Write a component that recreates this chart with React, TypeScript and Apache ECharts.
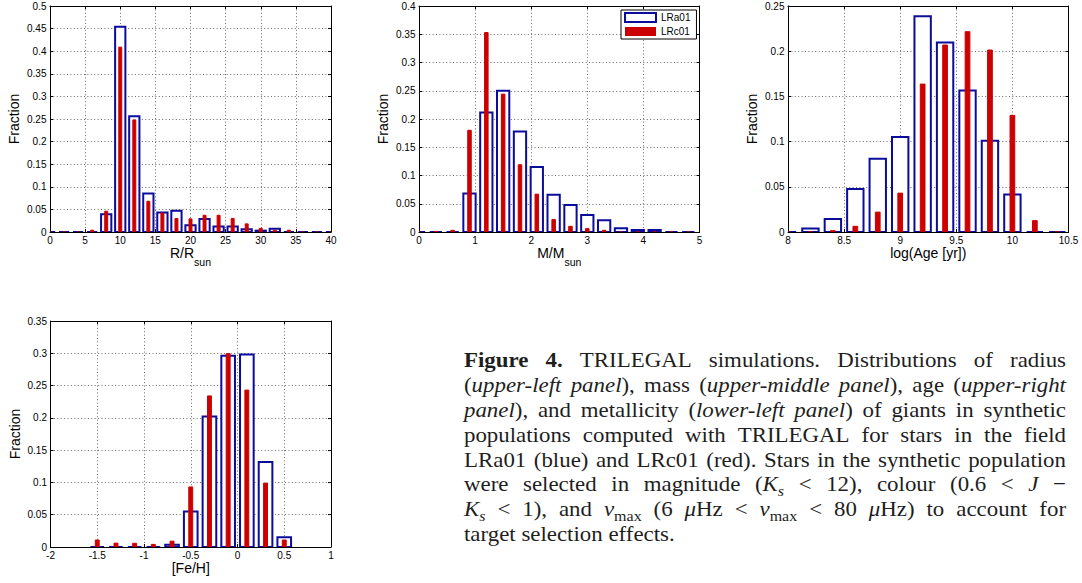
import React, { useEffect, useRef } from 'react';
import * as echarts from 'echarts';

// ---------------- data ----------------
const radiusCenters = [0, 2, 4, 6, 8, 10, 12, 14, 16, 18, 20, 22, 24, 26, 28, 30, 32, 34, 36, 38, 40];
const radiusLRa01 = [0, 0, 0, 0, 0.039, 0.454, 0.256, 0.085, 0.043, 0.047, 0.015, 0.029, 0.012, 0.012, 0.006, 0.003, 0.007, 0, 0, 0, 0];
const radiusLRc01 = [0, 0, 0, 0.004, 0.046, 0.409, 0.248, 0.068, 0.042, 0.030, 0.029, 0.037, 0.037, 0.030, 0.018, 0.008, 0.004, 0.004, 0, 0, 0];

const massCenters = [0, 0.3, 0.6, 0.9, 1.2, 1.5, 1.8, 2.1, 2.4, 2.7, 3.0, 3.3, 3.6, 3.9, 4.2, 4.5, 4.8];
const massLRa01 = [0, 0, 0, 0.068, 0.2115, 0.25, 0.178, 0.115, 0.066, 0.048, 0.030, 0.021, 0.0065, 0.0035, 0.0035, 0, 0];
const massLRc01 = [0, 0.001, 0.003, 0.18, 0.353, 0.244, 0.119, 0.067, 0.022, 0.010, 0.006, 0.003, 0, 0, 0, 0, 0];

const ageCenters = [8.0, 8.2, 8.4, 8.6, 8.8, 9.0, 9.2, 9.4, 9.6, 9.8, 10.0, 10.2, 10.4];
const ageLRa01 = [0, 0.004, 0.0144, 0.0476, 0.081, 0.105, 0.2386, 0.2097, 0.1566, 0.101, 0.0414, 0, 0];
const ageLRc01 = [0, 0.0005, 0.0015, 0.0063, 0.022, 0.043, 0.1636, 0.2068, 0.2216, 0.2013, 0.129, 0.0126, 0];

const fehCenters = [-1.5, -1.3, -1.1, -0.9, -0.7, -0.5, -0.3, -0.1, 0.1, 0.3, 0.5];
const fehLRa01 = [0, 0, 0, 0, 0.0036, 0.055, 0.202, 0.296, 0.298, 0.1316, 0.015];
const fehLRc01 = [0.0108, 0.006, 0.0057, 0.004, 0.009, 0.093, 0.234, 0.2994, 0.243, 0.099, 0.0108];

const seriesNames = ['LRa01', 'LRc01'];
const yAxisTitle = 'Fraction';
const xAxisTitles = ['{a|R/R}{b|sun}', '{a|M/M}{b|sun}', '{a|log(Age [yr])}', '{a|[Fe/H]}'];

const captionLines = [
  '#Figure 4.# TRILEGAL simulations. Distributions of radius',
  '(*upper-left panel*), mass (*upper-middle panel*), age (*upper-right*',
  '*panel*), and metallicity (*lower-left panel*) of giants in synthetic',
  'populations computed with TRILEGAL for stars in the field',
  'LRa01 (blue) and LRc01 (red). Stars in the synthetic population',
  'were selected in magnitude (*K*_{*s*} < 12), colour (0.6 < *J* \u2212',
  '*K*_{*s*} < 1), and *\u03bd*_{max} (6 *\u03bc*Hz < *\u03bd*_{max} < 80 *\u03bc*Hz) to account for',
  'target selection effects.',
];

// ---------------- style ----------------
const BLUE = '#0c0c9c';
const RED = '#cc0000';
const SANS = 'Liberation Sans';
const SERIF = 'Liberation Serif';

const panels = [
  { grid: { left: 50, top: 6, width: 281, height: 226 }, xr: [0, 40, 5], yr: [0, 0.5, 0.05], centers: radiusCenters, blue: radiusLRa01, red: radiusLRc01, bin: 2, nameGap: 12.5 },
  { grid: { left: 419, top: 6, width: 280.5, height: 226 }, xr: [0, 5, 1], yr: [0, 0.4, 0.05], centers: massCenters, blue: massLRa01, red: massLRc01, bin: 0.3, nameGap: 12.5 },
  { grid: { left: 788, top: 6, width: 280.5, height: 226 }, xr: [8, 10.5, 0.5], yr: [0, 0.25, 0.05], centers: ageCenters, blue: ageLRa01, red: ageLRc01, bin: 0.2, nameGap: 12.5 },
  { grid: { left: 50.5, top: 321, width: 280.5, height: 226 }, xr: [-2, 1, 0.5], yr: [0, 0.35, 0.05], centers: fehCenters, blue: fehLRa01, red: fehLRc01, bin: 0.2, nameGap: 13 },
];

// ---------------- caption helpers ----------------
type Run = { t: string; b: boolean; i: boolean; sub: boolean };
function parseLine(s: string): Run[][] {
  const words: Run[][] = [];
  let cur: Run[] = [];
  let b = false, it = false, sub = false;
  const push = (ch: string) => {
    const last = cur[cur.length - 1];
    if (last && last.b === b && last.i === it && last.sub === sub) last.t += ch;
    else cur.push({ t: ch, b, i: it, sub });
  };
  for (let k = 0; k < s.length; k++) {
    const ch = s[k];
    if (ch === '#') { b = !b; continue; }
    if (ch === '*') { it = !it; continue; }
    if (ch === '_' && s[k + 1] === '{') { sub = true; k++; continue; }
    if (ch === '}' && sub) { sub = false; continue; }
    if (ch === ' ') { if (cur.length) { words.push(cur); cur = []; } continue; }
    push(ch);
  }
  if (cur.length) words.push(cur);
  return words;
}

function buildCaption() {
  const F = 22;
  const SUBF = F * 0.7;
  const CAP_X = 464;
  const CAP_W = 602;
  const CAP_BASE = 367;
  const CAP_LH = 24.9;
  const SX = 1.04;
  const canvas = document.createElement('canvas');
  const ctx = canvas.getContext('2d') as CanvasRenderingContext2D;
  const fontOf = (r: Run) => `${r.i ? 'italic ' : ''}${r.b ? 'bold ' : ''}${r.sub ? SUBF : F}px ${SERIF}`;
  const wOf = (r: Run) => { ctx.font = fontOf(r); return ctx.measureText(r.t).width; };
  ctx.font = `${F}px ${SERIF}`;
  const spaceW = ctx.measureText(' ').width;
  const groups: any[] = [];
  captionLines.forEach((line, li) => {
    const words = parseLine(line);
    const widths = words.map((ws) => ws.reduce((a, r) => a + wOf(r), 0));
    const total = widths.reduce((a, v) => a + v, 0);
    const justify = li < captionLines.length - 1 && words.length > 1;
    let sc = SX;
    const minNat = total + spaceW * 0.6 * (words.length - 1);
    if (justify && minNat * sc > CAP_W) sc = CAP_W / minNat;
    const gap = justify ? (CAP_W / sc - total) / (words.length - 1) : spaceW;
    const base = CAP_BASE + li * CAP_LH;
    const children: any[] = [];
    let x = 0;
    words.forEach((ws, wi) => {
      let xx = x;
      ws.forEach((r) => {
        const size = r.sub ? SUBF : F;
        const rb = r.sub ? base + F * 0.2 : base;
        children.push({
          type: 'text',
          x: xx,
          y: rb - 0.3375 * size,
          style: {
            text: r.t,
            fontFamily: SERIF,
            fontSize: size,
            fontStyle: r.i ? 'italic' : 'normal',
            fontWeight: r.b ? 'bold' : 'normal',
            fill: '#1e1e1e',
            verticalAlign: 'middle',
            align: 'left',
          },
        });
        xx += wOf(r);
      });
      x += widths[wi] + gap;
    });
    groups.push({ type: 'group', x: CAP_X, y: 0, scaleX: sc, children });
  });
  return groups;
}

function barSeries(name: string, xi: number, centers: number[], values: number[], bin: number, kind: 'blue' | 'red') {
  const frac = kind === 'blue' ? 0.73 : 0.21;
  return {
    type: 'custom',
    name,
    xAxisIndex: xi,
    yAxisIndex: xi,
    clip: true,
    z: kind === 'blue' ? 2 : 3,
    itemStyle: kind === 'blue' ? { color: '#fff', borderColor: BLUE, borderWidth: 2 } : { color: RED },
    encode: { x: 0, y: 1 },
    data: centers.map((c, i) => [c, values[i]]),
    renderItem: (params: any, api: any) => {
      const x = api.value(0);
      const y = api.value(1);
      const p0 = api.coord([x - (bin * frac) / 2, 0]);
      const p1 = api.coord([x + (bin * frac) / 2, y]);
      const h = p0[1] - p1[1];
      const style = kind === 'blue'
        ? { fill: '#ffffff', stroke: BLUE, lineWidth: 2 }
        : { fill: RED, stroke: RED, lineWidth: 1 };
      if (h < 0.5) {
        return {
          type: 'line',
          shape: { x1: p0[0], y1: p0[1], x2: p1[0], y2: p0[1] },
          style: { stroke: kind === 'blue' ? BLUE : RED, lineWidth: kind === 'blue' ? 2 : 1.5 },
        };
      }
      return {
        type: 'rect',
        shape: { x: p0[0], y: p1[1], width: p1[0] - p0[0], height: h },
        style,
      };
    },
  };
}

export default function App() {
  const ref = useRef<HTMLDivElement>(null);
  useEffect(() => {
    if (!ref.current) return;
    const chart = echarts.init(ref.current, undefined, { renderer: 'svg' });
    const grids: any[] = [];
    const xAxes: any[] = [];
    const yAxes: any[] = [];
    const series: any[] = [];
    const gridLine = { show: true, lineStyle: { color: '#6a6a6a', width: 1, type: [1, 2.4] } };
    const tickIn = { show: true, inside: true, length: 3, lineStyle: { color: '#000', width: 1 } };
    const axisLine = { show: true, onZero: false, lineStyle: { color: '#000', width: 1 } };
    const labelStyle = { fontFamily: SANS, fontSize: 10, color: '#000' };
    panels.forEach((p, gi) => {
      grids.push({ ...p.grid, containLabel: false });
      xAxes.push({
        type: 'value', gridIndex: gi, position: 'bottom', min: p.xr[0], max: p.xr[1], interval: p.xr[2],
        axisLine, axisTick: tickIn, splitLine: gridLine,
        axisLabel: { ...labelStyle, margin: 3, showMinLabel: true, showMaxLabel: true },
        name: xAxisTitles[gi], nameLocation: 'middle', nameGap: p.nameGap,
        nameTextStyle: {
          fontFamily: SANS, color: '#000',
          rich: {
            a: { fontFamily: SANS, fontSize: 14, color: '#000', lineHeight: 16, verticalAlign: 'top' },
            b: { fontFamily: SANS, fontSize: 10.5, color: '#000', lineHeight: 32, verticalAlign: 'middle' },
          },
        },
      });
      yAxes.push({
        type: 'value', gridIndex: gi, position: 'left', min: p.yr[0], max: p.yr[1], interval: p.yr[2],
        axisLine, axisTick: tickIn, splitLine: gridLine,
        axisLabel: { ...labelStyle, margin: 3.5, showMinLabel: true, showMaxLabel: true },
        name: yAxisTitle, nameLocation: 'middle', nameGap: 29,
        nameTextStyle: { fontFamily: SANS, fontSize: 14, color: '#000' },
      });
    });
    panels.forEach((p, gi) => {
      xAxes.push({
        type: 'value', gridIndex: gi, position: 'top', min: p.xr[0], max: p.xr[1], interval: p.xr[2],
        axisLine, axisTick: tickIn, splitLine: { show: false }, axisLabel: { show: false },
      });
      yAxes.push({
        type: 'value', gridIndex: gi, position: 'right', min: p.yr[0], max: p.yr[1], interval: p.yr[2],
        axisLine, axisTick: tickIn, splitLine: { show: false }, axisLabel: { show: false },
      });
    });
    panels.forEach((p, gi) => {
      series.push(barSeries(seriesNames[0], gi, p.centers, p.blue, p.bin, 'blue'));
      series.push(barSeries(seriesNames[1], gi, p.centers, p.red, p.bin, 'red'));
    });

    const option: any = {
      animation: false,
      backgroundColor: '#ffffff',
      grid: grids,
      xAxis: xAxes,
      yAxis: yAxes,
      series,
      legend: {
        left: 621, top: 10, orient: 'vertical', selectedMode: false,
        itemWidth: 31, itemHeight: 9, itemGap: 3,
        padding: [2, 6, 2, 3],
        borderColor: '#000', borderWidth: 1, backgroundColor: '#fff',
        textStyle: { fontFamily: SANS, fontSize: 10, color: '#000', lineHeight: 11 },
        data: [
          { name: seriesNames[0], icon: 'rect', itemStyle: { color: '#fff', borderColor: BLUE, borderWidth: 2 } },
          { name: seriesNames[1], icon: 'rect', itemStyle: { color: RED, borderWidth: 0 } },
        ],
      },
      graphic: buildCaption(),
    };
    chart.setOption(option);
    return () => chart.dispose();
  }, []);
  return (
    <div style={{ position: 'fixed', left: 0, top: 0, width: 1082, height: 583, background: '#fff' }}>
      <div ref={ref} style={{ width: 1082, height: 583 }} />
    </div>
  );
}
